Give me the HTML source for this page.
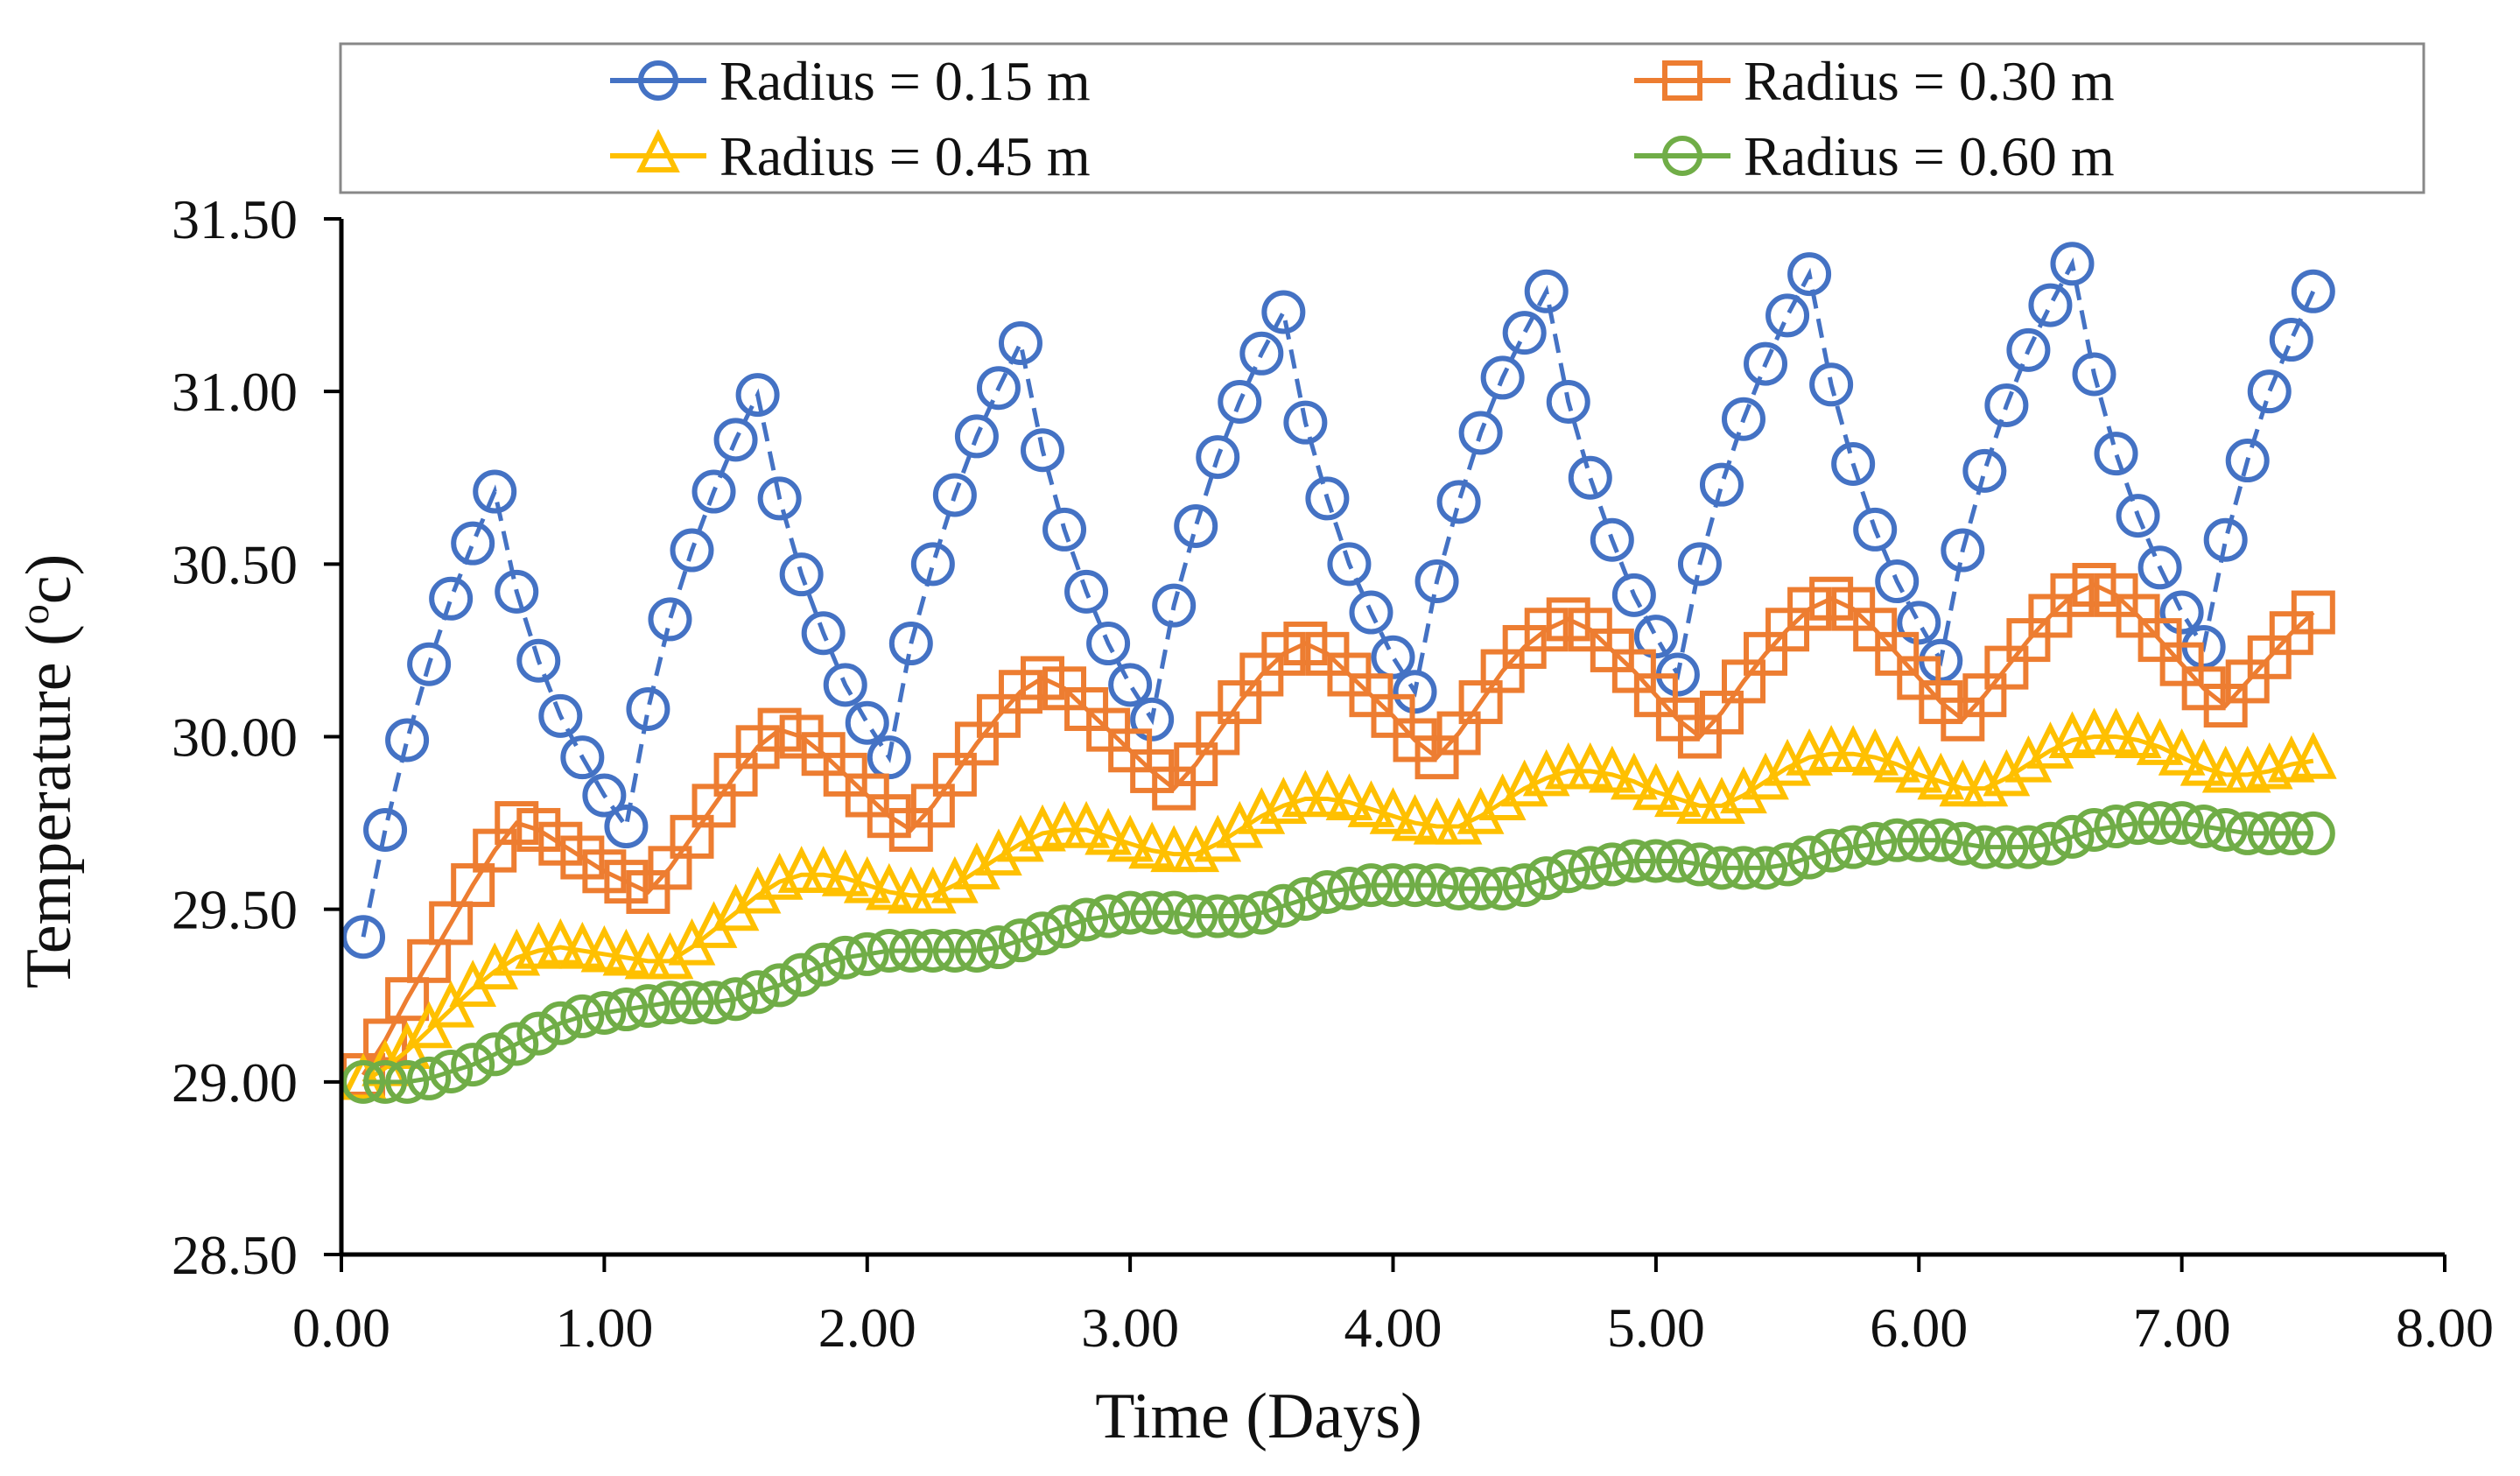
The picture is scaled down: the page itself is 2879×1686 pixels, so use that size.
<!DOCTYPE html>
<html><head><meta charset="utf-8"><style>
html,body{margin:0;padding:0;background:#fff;}
svg{display:block;font-family:"Liberation Serif",serif;}
</style></head><body>
<svg id="chart" width="2879" height="1686" viewBox="0 0 2879 1686" xmlns="http://www.w3.org/2000/svg">
<rect x="0" y="0" width="2879" height="1686" fill="#fff"/>
<g id="plot"></g>
<g id="axes"></g>
<g id="legend">
<rect x="389" y="50" width="2380" height="170" fill="#fff" stroke="#888" stroke-width="3"/>
</g>
<text x="1438" y="1642" font-size="74" text-anchor="middle" fill="#111">Time (Days)</text>
<text transform="translate(80,881) rotate(-90)" font-size="74" text-anchor="middle" fill="#111">Temperature (<tspan baseline-shift="super" font-size="46">o</tspan>c)</text>
</svg>
<script>
const xTicks=[0,1,2,3,4,5,6,7,8];
const xTickLabels=["0.00","1.00","2.00","3.00","4.00","5.00","6.00","7.00","8.00"];
const yTicks=[28.5,29,29.5,30,30.5,31,31.5];
const yTickLabels=["28.50","29.00","29.50","30.00","30.50","31.00","31.50"];
const timeStepsPerDay=12;
const seriesNames=["Radius = 0.15 m","Radius = 0.30 m","Radius = 0.45 m","Radius = 0.60 m"];
const r015=[29.42,29.73,29.99,30.21,30.40,30.56,30.71,30.42,30.22,30.06,29.94,29.83,29.74,30.08,30.34,30.54,30.71,30.86,30.99,30.69,30.47,30.30,30.15,30.04,29.94,30.27,30.50,30.70,30.87,31.01,31.14,30.83,30.60,30.42,30.27,30.15,30.05,30.38,30.61,30.81,30.97,31.11,31.23,30.91,30.69,30.50,30.36,30.23,30.13,30.45,30.68,30.88,31.04,31.17,31.29,30.97,30.75,30.57,30.41,30.29,30.18,30.50,30.73,30.92,31.08,31.22,31.34,31.02,30.79,30.60,30.45,30.33,30.22,30.54,30.77,30.96,31.12,31.25,31.37,31.05,30.82,30.64,30.49,30.36,30.26,30.57,30.80,31.00,31.15,31.29];
const r030=[29.02,29.12,29.24,29.35,29.46,29.57,29.67,29.75,29.73,29.69,29.65,29.61,29.58,29.55,29.62,29.71,29.80,29.89,29.97,30.02,30.00,29.95,29.89,29.83,29.77,29.73,29.80,29.89,29.98,30.06,30.13,30.17,30.14,30.08,30.02,29.96,29.90,29.85,29.92,30.01,30.10,30.18,30.24,30.27,30.24,30.18,30.12,30.06,29.99,29.94,30.01,30.10,30.19,30.26,30.31,30.34,30.31,30.25,30.19,30.12,30.05,30.00,30.07,30.16,30.24,30.31,30.37,30.40,30.37,30.31,30.24,30.17,30.10,30.05,30.12,30.20,30.28,30.35,30.41,30.44,30.41,30.35,30.28,30.21,30.14,30.09,30.16,30.23,30.30,30.36];
const r045=[29.00,29.04,29.09,29.15,29.21,29.27,29.32,29.36,29.38,29.39,29.38,29.37,29.36,29.35,29.35,29.39,29.44,29.49,29.54,29.58,29.60,29.60,29.59,29.57,29.55,29.54,29.54,29.57,29.61,29.65,29.69,29.72,29.73,29.73,29.71,29.69,29.67,29.66,29.66,29.69,29.73,29.77,29.80,29.82,29.82,29.81,29.79,29.77,29.75,29.74,29.74,29.77,29.81,29.85,29.88,29.90,29.90,29.89,29.87,29.84,29.82,29.80,29.80,29.83,29.87,29.91,29.94,29.95,29.95,29.94,29.92,29.89,29.87,29.85,29.85,29.88,29.92,29.96,29.99,30.00,30.00,29.99,29.97,29.94,29.91,29.89,29.89,29.90,29.92,29.93];
const r060=[29.00,29.00,29.00,29.01,29.03,29.05,29.08,29.11,29.14,29.17,29.19,29.20,29.21,29.22,29.23,29.23,29.23,29.24,29.26,29.28,29.31,29.34,29.36,29.37,29.38,29.38,29.38,29.38,29.38,29.39,29.41,29.43,29.45,29.47,29.48,29.49,29.49,29.49,29.48,29.48,29.48,29.49,29.51,29.53,29.55,29.56,29.57,29.57,29.57,29.57,29.56,29.56,29.56,29.57,29.59,29.61,29.62,29.63,29.64,29.64,29.64,29.63,29.62,29.62,29.62,29.63,29.65,29.67,29.68,29.69,29.70,29.70,29.70,29.69,29.68,29.68,29.68,29.69,29.71,29.73,29.74,29.75,29.75,29.75,29.74,29.73,29.72,29.72,29.72,29.72];

const NS="http://www.w3.org/2000/svg";
const X0=390,X1=2793,Y0=1433,Y1=250;
function xs(v){return X0+(v-0)/(8-0)*(X1-X0);}
function ys(v){return Y0-(v-28.5)/(31.5-28.5)*(Y0-Y1);}
function mk(tag,attrs,parent){const e=document.createElementNS(NS,tag);for(const k in attrs)e.setAttribute(k,attrs[k]);parent.appendChild(e);return e;}
const axes=document.getElementById('axes'),plot=document.getElementById('plot'),legend=document.getElementById('legend');

let a=mk('line',{x1:X0,y1:Y0,x2:X1,y2:Y0,stroke:'#000','stroke-width':5},axes);


a=mk('line',{x1:X0,y1:Y0,x2:X0,y2:Y1,stroke:'#000','stroke-width':5},axes);


xTicks.forEach((t,i)=>{
  const l=mk('line',{x1:xs(t),y1:Y0,x2:xs(t),y2:Y0+20,stroke:'#000','stroke-width':4},axes);
  
  
  const tx=mk('text',{x:xs(t),y:1538,'font-size':64,'text-anchor':'middle',fill:'#111'},axes);
  tx.textContent=xTickLabels[i];
  
  
});
yTicks.forEach((t,i)=>{
  const l=mk('line',{x1:X0-20,y1:ys(t),x2:X0,y2:ys(t),stroke:'#000','stroke-width':4},axes);
  
  
  const tx=mk('text',{x:340,y:ys(t)+22,'font-size':64,'text-anchor':'end',fill:'#111'},axes);
  tx.textContent=yTickLabels[i];
  
  
});

const colors=["#4472C4","#ED7D31","#FFC000","#70AD47"];
const shapes=["circle","square","triangle","circle"];
const data=[r015,r030,r045,r060];
function marker(shape,cx,cy,color,parent,s){
  let e;
  if(shape==="circle")e=mk('circle',{cx:cx,cy:cy,r:s,fill:'none',stroke:color,'stroke-width':6},parent);
  else if(shape==="square")e=mk('rect',{x:cx-s,y:cy-s,width:2*s,height:2*s,fill:'none',stroke:color,'stroke-width':6},parent);
  else e=mk('polygon',{points:`${cx},${cy-s*1.2} ${cx+s},${cy+s*0.8} ${cx-s},${cy+s*0.8}`,fill:'none',stroke:color,'stroke-width':6},parent);
  return e;
}
data.forEach((arr,si)=>{
  const g=mk('g',{},plot);
  
  
  const pts=arr.map((v,k)=>xs((k+1)/timeStepsPerDay)+','+ys(v)).join(' ');
  const pl=mk('polyline',{points:pts,fill:'none',stroke:colors[si],'stroke-width':5,'stroke-dasharray':si===0?'22,12':'none'},g);
  
  
  arr.forEach((v,k)=>{
    const m=marker(shapes[si],xs((k+1)/timeStepsPerDay),ys(v),colors[si],g,22);
    
    
  });
});

const legPos=[[752,92],[1922,92],[752,178],[1922,178]];
seriesNames.forEach((n,i)=>{
  const [cx,cy]=legPos[i];
  const g=mk('g',{},legend);
  
  
  mk('line',{x1:cx-55,y1:cy,x2:cx+55,y2:cy,stroke:colors[i],'stroke-width':6},g);
  marker(shapes[i],cx,cy,colors[i],g,20);
  const t=mk('text',{x:cx+70,y:cy+22,'font-size':64,fill:'#111'},g);
  t.textContent=n;
});
</script>
</body></html>
